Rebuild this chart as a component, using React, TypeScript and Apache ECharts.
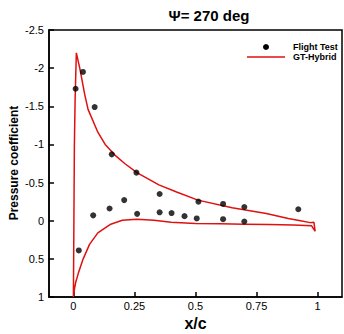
import React, { useEffect, useRef } from "react";
import * as echarts from "echarts";

const flightX = [0.009, 0.039, 0.087, 0.157, 0.258, 0.353, 0.512, 0.613, 0.7, 0.921, 0.081, 0.148, 0.208, 0.261, 0.353, 0.402, 0.455, 0.505, 0.613, 0.7, 0.022];
const flightCp = [-1.73, -1.95, -1.49, -0.87, -0.63, -0.35, -0.25, -0.22, -0.18, -0.15, -0.07, -0.16, -0.27, -0.09, -0.11, -0.1, -0.06, -0.03, -0.02, 0.01, 0.39];

// GT-Hybrid closed loop: lower surface TE -> LE, then upper surface LE -> TE
const gtX = [0.99, 0.975, 0.9, 0.8, 0.7, 0.6, 0.5, 0.4, 0.33, 0.26, 0.2, 0.15, 0.1, 0.066, 0.04, 0.02, 0.01, 0.005, 0.0,
  0.002, 0.004, 0.007, 0.012, 0.026, 0.046, 0.06, 0.1, 0.13, 0.17, 0.21, 0.26, 0.35, 0.42, 0.51, 0.65, 0.79, 0.88, 0.93, 0.97, 0.985, 0.99];
const gtCp = [0.14, 0.065, 0.055, 0.05, 0.045, 0.04, 0.035, 0.02, -0.005, -0.02, -0.005, 0.05, 0.16, 0.31, 0.5, 0.69, 0.8, 0.88, 1.0,
  0.0, -1.0, -1.6, -2.2, -2.0, -1.66, -1.46, -1.16, -1.0, -0.86, -0.75, -0.63, -0.47, -0.38, -0.27, -0.17, -0.095, -0.03, 0.0, 0.025, 0.02, 0.14];

const xTicks = [0, 0.25, 0.5, 0.75, 1];
const titleText = "\u03A8= 270 deg";
const legendNames = ["Flight Test", "GT-Hybrid"];
const yName = "Pressure coefficient";

export default function App() {
  const ref = useRef<HTMLDivElement>(null);
  useEffect(() => {
    if (!ref.current) return;
    const chart = echarts.init(ref.current, undefined, { renderer: "svg" });
    const font = "Liberation Sans, Arial, sans-serif";
    const red = "#e01010";
    chart.setOption({
      animation: false,
      backgroundColor: "#fff",
      textStyle: { fontFamily: font },
      title: {
        text: titleText,
        left: 204,
        top: 3,
        textAlign: "center",
        textStyle: { fontSize: 15, fontWeight: "bold", color: "#000", fontFamily: font },
      },
      legend: { show: false },
      graphic: [
        { type: "circle", shape: { cx: 266, cy: 47, r: 3 }, style: { fill: "#000" } },
        { type: "line", shape: { x1: 247, y1: 57, x2: 285, y2: 57 }, style: { stroke: red, lineWidth: 1.5 } },
        {
          type: "text", x: 293, y: 47,
          style: { text: legendNames[0], fontSize: 9, fontWeight: "bold", fontFamily: font, fill: "#000", textVerticalAlign: "middle" },
        },
        {
          type: "text", x: 293, y: 57,
          style: { text: legendNames[1], fontSize: 9, fontWeight: "bold", fontFamily: font, fill: "#000", textVerticalAlign: "middle" },
        },
        {
          type: "text", x: 14, y: 163, rotation: Math.PI / 2,
          style: { text: yName, fontSize: 12, fontWeight: "bold", fontFamily: font, fill: "#000", textAlign: "center", textVerticalAlign: "middle" },
        },
      ],
      grid: {
        left: 49,
        right: 2,
        top: 30,
        bottom: 37,
        containLabel: false,
        outerBoundsMode: "none",
        show: true,
        borderColor: "#000",
        borderWidth: 1.5,
      },
      xAxis: {
        type: "value",
        min: -0.1,
        max: 1.1,
        name: "x/c",
        nameLocation: "middle",
        nameGap: 16,
        nameTextStyle: { fontSize: 16, fontWeight: "bold", color: "#000", fontFamily: font },
        splitLine: { show: false },
        axisLine: { onZero: false, lineStyle: { color: "#000", width: 1.5 } },
        axisTick: { inside: true, length: 5, customValues: xTicks, lineStyle: { color: "#000", width: 1.5 } },
        axisLabel: { customValues: xTicks, margin: 3, fontSize: 11, color: "#000", fontFamily: font },
      },
      yAxis: {
        type: "value",
        inverse: true,
        min: -2.5,
        max: 1,
        interval: 0.5,
        splitLine: { show: false },
        axisLine: { onZero: false, lineStyle: { color: "#000", width: 1.5 } },
        axisTick: { inside: true, length: 5, lineStyle: { color: "#000", width: 1.5 } },
        axisLabel: { margin: 5, fontSize: 11, color: "#000", fontFamily: font },
      },
      series: [
        {
          name: "Flight Test",
          type: "scatter",
          symbol: "circle",
          symbolSize: 6,
          itemStyle: { color: "#000" },
          data: flightX.map((x, i) => [x, flightCp[i]]),
          z: 3,
        },
        {
          name: "GT-Hybrid",
          type: "line",
          showSymbol: false,
          symbol: "none",
          smooth: false,
          lineStyle: { color: red, width: 1.5 },
          itemStyle: { color: red },
          data: gtX.map((x, i) => [x, gtCp[i]]),
          z: 2,
        },
      ],
    });
    return () => chart.dispose();
  }, []);
  return (
    <div
      ref={ref}
      style={{ position: "fixed", left: 0, top: 0, width: 344, height: 334, background: "#fff" }}
    />
  );
}
